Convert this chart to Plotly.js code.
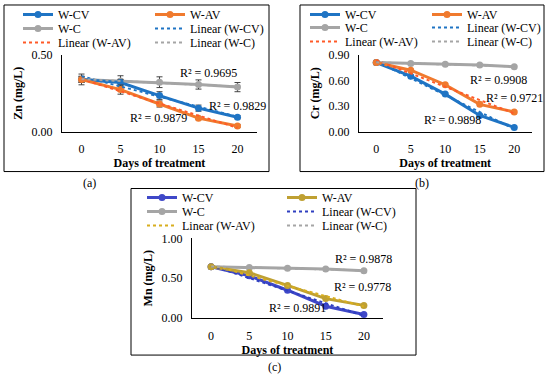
<!DOCTYPE html>
<html>
<head>
<meta charset="utf-8">
<script src="https://cdn.plot.ly/plotly-3.0.1.min.js"></script>
<style>html,body{margin:0;padding:0;background:#fff;}#chart{width:550px;height:379px;}</style>
</head>
<body>
<div id="chart"></div>
<script>
// ---- data ----
const days = [0, 5, 10, 15, 20];
const seriesNames = ['W-CV', 'W-AV', 'W-C'];

// (a) Zn (mg/L)
const znCV = [0.34, 0.32, 0.235, 0.153, 0.094];
const znAV = [0.34, 0.274, 0.18, 0.088, 0.037];
const znC  = [0.34, 0.329, 0.322, 0.307, 0.29];
const znCVerr = [0.02, 0.02, 0.025, 0.02, 0.01];
const znAVerr = [0.02, 0.03, 0.02, 0.01, 0.01];
const znCerr  = [0.035, 0.035, 0.035, 0.03, 0.03];
const znR2 = ['R² = 0.9695', 'R² = 0.9829', 'R² = 0.9879'];

// (b) Cr (mg/L)
const crCV = [0.81, 0.65, 0.44, 0.19, 0.05];
const crAV = [0.81, 0.72, 0.55, 0.32, 0.23];
const crC  = [0.81, 0.80, 0.79, 0.78, 0.76];
const crR2 = ['R² = 0.9908', 'R² = 0.9721', 'R² = 0.9898'];

// (c) Mn (mg/L)
const mnCV = [0.645, 0.53, 0.35, 0.15, 0.047];
const mnAV = [0.645, 0.57, 0.41, 0.245, 0.16];
const mnC  = [0.645, 0.635, 0.625, 0.615, 0.595];
const mnR2 = ['R² = 0.9878', 'R² = 0.9778', 'R² = 0.9891'];

const yTitles = ['Zn (mg/L)', 'Cr (mg/L)', 'Mn (mg/L)'];
const xTitle = 'Days of treatment';
const captions = ['(a)', '(b)', '(c)'];

// ---- helpers ----
const W = 550, H = 379;
const px = v => v / W;
const py = v => 1 - v / H;
const FONT = '"Liberation Serif", "Times New Roman", serif';

function linFit(xs, ys) {
  const n = xs.length;
  const mx = xs.reduce((a, b) => a + b, 0) / n;
  const my = ys.reduce((a, b) => a + b, 0) / n;
  let sxy = 0, sxx = 0;
  for (let i = 0; i < n; i++) { sxy += (xs[i] - mx) * (ys[i] - my); sxx += (xs[i] - mx) ** 2; }
  const b = sxy / sxx, a = my - b * mx;
  return xs.map(x => a + b * x);
}

const traces = [];
function addPanel(xa, ya, vals, errs, colors, trendColors, legends) {
  // row1: W-CV, W-AV ; row2: W-C, Linear(W-CV) ; row3: Linear(W-AV), Linear(W-C)
  const seriesLegend = [legends[0], legends[0], legends[1]];
  const trendLegend = [legends[1], legends[2], legends[2]];
  const drawOrder = [2, 0, 1];
  drawOrder.forEach(i => {
    const t = {
      x: days, y: vals[i], xaxis: xa, yaxis: ya, name: seriesNames[i],
      type: 'scatter', mode: 'lines+markers',
      line: {color: colors[i], width: 3},
      marker: {color: colors[i], size: 7, symbol: 'circle'},
      legend: seriesLegend[i], legendrank: i + 1,
      hoverinfo: 'skip'
    };
    if (errs) {
      t.error_y = {type: 'data', array: errs[i], visible: true, color: '#444', thickness: 1, width: 3};
    }
    traces.push(t);
  });
  [0, 1, 2].forEach(i => {
    traces.push({
      x: days, y: linFit(days, vals[i]), xaxis: xa, yaxis: ya,
      name: 'Linear (' + seriesNames[i] + ')',
      type: 'scatter', mode: 'lines',
      line: {color: trendColors[i], width: 2, dash: 'dot'},
      legend: trendLegend[i], legendrank: i + 4,
      hoverinfo: 'skip'
    });
  });
}

addPanel('x', 'y', [znCV, znAV, znC], [znCVerr, znAVerr, znCerr],
  ['#1F74C4', '#F07A2E', '#A5A5A5'], ['#1F74C4', '#FF5A28', '#A5A5A5'],
  ['legend', 'legend2', 'legend3']);
addPanel('x2', 'y2', [crCV, crAV, crC], null,
  ['#1F74C4', '#F07A2E', '#A5A5A5'], ['#1F74C4', '#FF5A28', '#A5A5A5'],
  ['legend4', 'legend5', 'legend6']);
addPanel('x3', 'y3', [mnCV, mnAV, mnC], null,
  ['#3F48C8', '#BFA032', '#A5A5A5'], ['#2F3FC0', '#D8AE1E', '#A5A5A5'],
  ['legend7', 'legend8', 'legend9']);

const tickFont = {family: FONT, size: 12, color: '#000'};
const titleFont = {family: FONT, size: 12, color: '#000', weight: 'bold'};

function xAxis(d0, d1, anchor) {
  return {
    domain: [px(d0), px(d1)], anchor: anchor, range: [-2.5, 22.5],
    tickmode: 'array', tickvals: days, ticktext: days.map(String),
    showline: true, linecolor: '#000', linewidth: 1, showgrid: false, zeroline: false,
    ticks: '', tickfont: tickFont, ticklabelstandoff: 6,
    title: {text: xTitle, font: titleFont, standoff: 2}, fixedrange: true
  };
}
function yAxis(top, bottom, anchor, maxV, step, title) {
  const tv = [];
  for (let v = 0; v <= maxV + 1e-9; v += step) tv.push(+v.toFixed(2));
  return {
    domain: [py(bottom), py(top)], anchor: anchor, range: [0, maxV],
    tickmode: 'array', tickvals: tv, ticktext: tv.map(v => v.toFixed(2)),
    showline: true, linecolor: '#000', linewidth: 1, showgrid: false, zeroline: false,
    ticks: '', tickfont: tickFont, ticklabelstandoff: 6,
    title: {text: title, font: titleFont, standoff: 6}, fixedrange: true
  };
}

function legendAt(x, y, ew) {
  return {
    x: px(x), y: py(y), xanchor: 'left', yanchor: 'middle', orientation: 'h',
    entrywidth: ew, entrywidthmode: 'pixels', bgcolor: 'rgba(0,0,0,0)',
    font: {family: FONT, size: 12, color: '#000'}, itemwidth: 30, traceorder: 'normal'
  };
}

function r2Ann(text, x, y) {
  return {text: text, x: px(x), y: py(y), xref: 'paper', yref: 'paper', xanchor: 'left', yanchor: 'middle',
    showarrow: false, font: {family: FONT, size: 12, color: '#000'}};
}
function capAnn(text, x, y) {
  return {text: text, x: px(x), y: py(y), xref: 'paper', yref: 'paper', showarrow: false,
    xanchor: 'center', yanchor: 'middle', font: {family: FONT, size: 12, color: '#000'}};
}

const annotations = [
  r2Ann(znR2[0], 178, 72), r2Ann(znR2[1], 207, 105), r2Ann(znR2[2], 128, 117),
  r2Ann(crR2[0], 468, 79), r2Ann(crR2[1], 484, 97), r2Ann(crR2[2], 422, 119),
  r2Ann(mnR2[0], 333, 259), r2Ann(mnR2[1], 332, 287), r2Ann(mnR2[2], 267, 308),
  capAnn(captions[0], 89, 182), capAnn(captions[1], 422, 182), capAnn(captions[2], 274, 367)
];

function box(x0, y0, x1, y1) {
  return {type: 'rect', xref: 'paper', yref: 'paper', x0: px(x0), x1: px(x1), y0: py(y1), y1: py(y0),
    line: {color: '#000', width: 1}, fillcolor: 'rgba(0,0,0,0)', layer: 'below'};
}

const layout = {
  width: W, height: H, margin: {l: 0, r: 0, t: 0, b: 0},
  paper_bgcolor: '#fff', plot_bgcolor: 'rgba(0,0,0,0)',
  font: {family: FONT, size: 12, color: '#000'},
  showlegend: true,
  xaxis: xAxis(62, 257, 'y'),
  yaxis: yAxis(54, 131, 'x', 0.5, 0.5, yTitles[0]),
  xaxis2: xAxis(359, 531.5, 'y2'),
  yaxis2: yAxis(54, 131, 'x2', 0.9, 0.3, yTitles[1]),
  xaxis3: xAxis(192, 383, 'y3'),
  yaxis3: yAxis(238, 318, 'x3', 1.0, 0.5, yTitles[2]),
  legend: legendAt(18, 14.5, 87), legend2: legendAt(18, 28.5, 87), legend3: legendAt(18, 42.5, 87),
  legend4: legendAt(305, 13.5, 77), legend5: legendAt(305, 27.5, 77), legend6: legendAt(305, 41.5, 77),
  legend7: legendAt(142, 197.5, 95), legend8: legendAt(142, 211.5, 95), legend9: legendAt(142, 225.5, 95),
  annotations: annotations,
  shapes: [box(4, 4, 269, 171), box(300, 4, 544, 171), box(131, 188, 416, 355)]
};

Plotly.newPlot('chart', traces, layout, {staticPlot: true, displayModeBar: false});
</script>
</body>
</html>
